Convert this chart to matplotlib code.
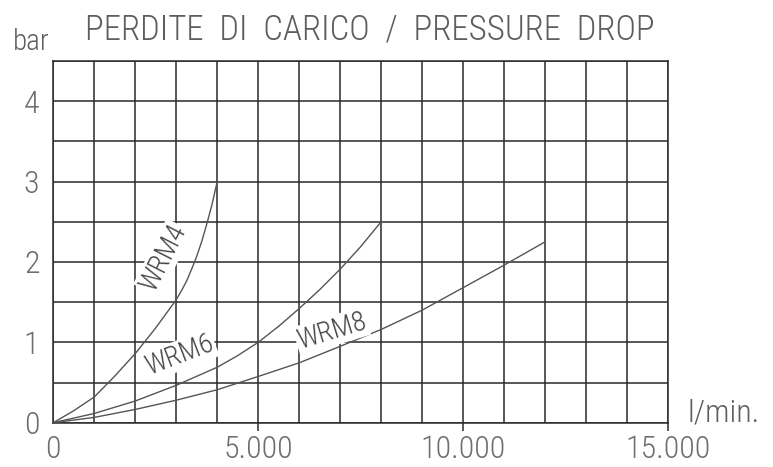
import matplotlib
matplotlib.use("Agg")
import matplotlib.pyplot as plt
from matplotlib.ticker import MultipleLocator, FixedLocator

# ---- data ----
flow_wrm4 = [0, 500, 1000, 1500, 2000, 2500, 3000, 3125, 3250, 3375, 3500, 3625, 3750, 3875, 4000]
drop_wrm4 = [0, 0.15, 0.32, 0.58, 0.86, 1.18, 1.53, 1.64, 1.76, 1.91, 2.07, 2.26, 2.48, 2.72, 3.0]

flow_wrm6 = [0, 1000, 2000, 3000, 4000, 4500, 5000, 5500, 6000, 6500, 7000, 7500, 8000]
drop_wrm6 = [0, 0.115, 0.27, 0.465, 0.69, 0.835, 1.0, 1.2, 1.42, 1.655, 1.91, 2.19, 2.5]

flow_wrm8 = [0, 1000, 2000, 3000, 4000, 5000, 6000, 7000, 8000, 9000, 10000, 11000, 12000]
drop_wrm8 = [0, 0.066, 0.165, 0.28, 0.41, 0.575, 0.745, 0.95, 1.16, 1.40, 1.68, 1.96, 2.25]

series_names = ["WRM4", "WRM6", "WRM8"]
x_ticks = [0, 5000, 10000, 15000]
x_tick_labels = ["0", "5.000", "10.000", "15.000"]
y_ticks = [0, 1, 2, 3, 4]
y_tick_labels = ["0", "1", "2", "3", "4"]

title = "PERDITE  DI  CARICO  /  PRESSURE  DROP"
y_unit = "bar"
x_unit = "l/min."

plt.rcParams["font.family"] = ["Roboto Condensed", "DejaVu Sans"]
plt.rcParams["font.weight"] = "light"

fig = plt.figure(figsize=(7.73, 4.67), dpi=100)
ax = fig.add_axes([53.3 / 773, 44.3 / 467, (668 - 53.3) / 773, (422.7 - 61) / 467])

ax.set_xlim(0, 15000)
ax.set_ylim(0, 4.5)

grid_c = "#2a2a2a"
ax.xaxis.set_minor_locator(MultipleLocator(1000))
ax.yaxis.set_minor_locator(MultipleLocator(0.5))
ax.grid(which="both", color=grid_c, linewidth=1.1)
ax.set_axisbelow(True)
for s in ax.spines.values():
    s.set_color(grid_c)
    s.set_linewidth(1.1)

curve_c = "#555555"
for fx, dy in [(flow_wrm4, drop_wrm4), (flow_wrm6, drop_wrm6), (flow_wrm8, drop_wrm8)]:
    ax.plot(fx, dy, color=curve_c, linewidth=1.0, zorder=3)

lab_c = "#6e6e6e"
ax.xaxis.set_major_locator(FixedLocator(x_ticks))
ax.set_xticklabels(x_tick_labels)
ax.yaxis.set_major_locator(FixedLocator(y_ticks))
ax.set_yticklabels(y_tick_labels)
ax.tick_params(axis="x", which="major", length=6, width=1.1, color=grid_c,
               labelsize=23, labelcolor=lab_c, pad=2.5)
ax.tick_params(axis="y", which="major", length=0, labelsize=23, labelcolor=lab_c, pad=10)
ax.tick_params(which="minor", length=0)
ax.xaxis.get_major_ticks()[0].tick1line.set_visible(False)

# curve labels
label_pos = [(2680, 2.05, 63), (3090, 0.84, 21), (6790, 1.14, 17)]
for name, (lx, ly, rot) in zip(series_names, label_pos):
    ax.text(lx, ly, name, rotation=rot, rotation_mode="anchor",
            ha="center", va="center", fontsize=20, color="#444444", zorder=4,
            bbox=dict(facecolor="white", edgecolor="none", pad=1.0))

fig.text(370 / 773, 1 - 40 / 467, title, ha="center", va="baseline", fontsize=25, color="#5e5e5e")
fig.text(13 / 773, 1 - 50 / 467, y_unit, ha="left", va="baseline", fontsize=21, color="#5e5e5e")
fig.text(687 / 773, 1 - 422 / 467, x_unit, ha="left", va="baseline", fontsize=23, color="#5e5e5e")

fig.savefig("out.png", dpi=100, facecolor="white")
